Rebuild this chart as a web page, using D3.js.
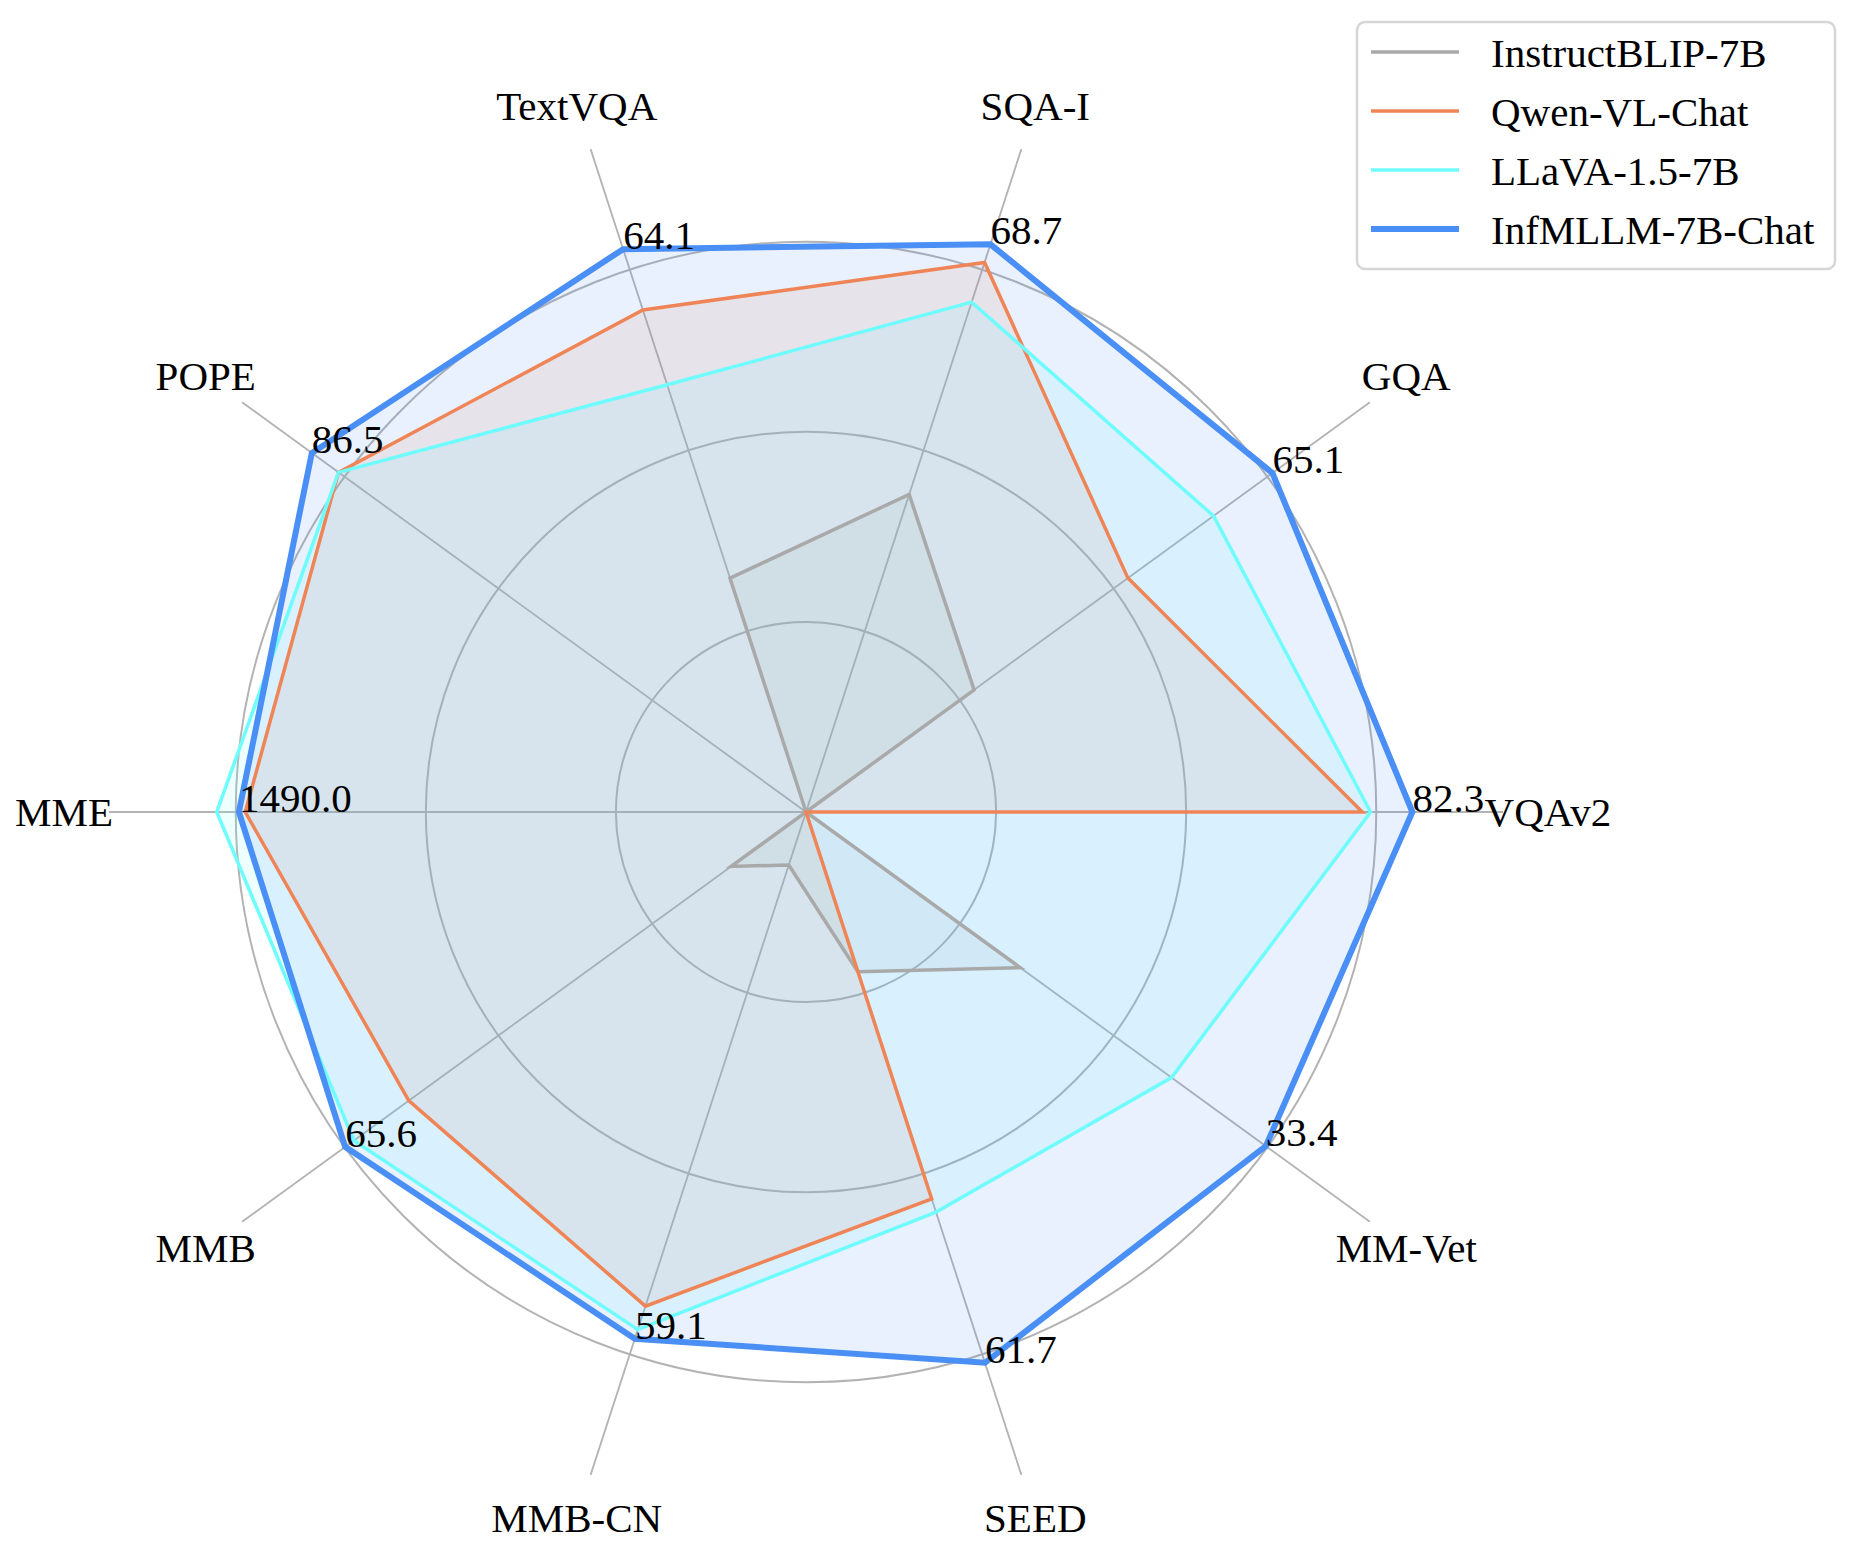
<!DOCTYPE html>
<html>
<head>
  <meta charset="utf-8">
  <title>Radar chart of MLLM benchmarks</title>
  <script src="https://d3js.org/d3.v7.min.js"></script>
  <style>
    body {
      margin: 0;
      background: #fff;
    }
    svg {
      font-family: "Liberation Serif", "Times New Roman", serif;
    }
    .grid {
      fill: none;
      stroke: #b3b3b3;
      stroke-width: 2px;
    }
    .spoke {
      stroke: #b3b3b3;
      stroke-width: 1.8px;
    }
  </style>
</head>
<body>
  <svg width="1856" height="1552"></svg>

  <script>
    // Benchmarks, counter-clockwise from the right
    const axes = ["VQAv2", "GQA", "SQA-I", "TextVQA", "POPE", "MME", "MMB", "MMB-CN", "SEED", "MM-Vet"];
    const models = ["InstructBLIP-7B", "Qwen-VL-Chat", "LLaVA-1.5-7B", "InfMLLM-7B-Chat"];
    const colors = ["#a9a9a9", "#ef8456", "#6ffcfc", "#4a8ff5"];
    const widths = [3.5, 3.5, 3.5, 6];

    // Normalised radius of each model on each axis
    const instructBlip = [0.0, 0.328, 0.527, 0.388, 0.0, 0.0, 0.146, 0.088, 0.265, 0.418];
    const qwenVlChat   = [0.878, 0.628, 0.912, 0.833, 0.912, 0.885, 0.775, 0.820, 0.642, 0.0];
    const llava15      = [0.891, 0.795, 0.846, 0.709, 0.912, 0.930, 0.882, 0.859, 0.664, 0.713];
    const infMllm      = [0.957, 0.910, 0.942, 0.934, 0.964, 0.895, 0.899, 0.874, 0.914, 0.897];
    const series = [instructBlip, qwenVlChat, llava15, infMllm];

    // Score labels printed at the InfMLLM points
    const infMllmLabels = ["82.3", "65.1", "68.7", "64.1", "86.5", "1490.0", "65.6", "59.1", "61.7", "33.4"];

    const gridTicks = [0.3, 0.6, 0.9];
    const fontSize = 41;

    const svg = d3.select("svg");
    const cx = 806, cy = 812;
    const g = svg.append("g").attr("transform", `translate(${cx},${cy})`);

    const r = d3.scaleLinear().domain([0, 1.1]).range([0, 697]);
    const step = 2 * Math.PI / axes.length;
    // angle in d3 radial terms (clockwise from 12 o'clock)
    const ang = i => Math.PI / 2 - i * step;
    const px = (i, v) => r(v) * Math.sin(ang(i));
    const py = (i, v) => -r(v) * Math.cos(ang(i));

    // grid rings
    g.selectAll("circle.grid")
      .data(gridTicks)
      .join("circle")
      .attr("class", "grid")
      .attr("r", d => r(d));

    // spokes
    g.selectAll("line.spoke")
      .data(axes)
      .join("line")
      .attr("class", "spoke")
      .attr("x1", 0).attr("y1", 0)
      .attr("x2", (d, i) => px(i, 1.1))
      .attr("y2", (d, i) => py(i, 1.1));

    // axis labels
    g.selectAll("text.axis-label")
      .data(axes)
      .join("text")
      .attr("class", "axis-label")
      .attr("x", (d, i) => px(i, 1.171))
      .attr("y", (d, i) => py(i, 1.171))
      .attr("text-anchor", "middle")
      .attr("dominant-baseline", "central")
      .attr("font-size", fontSize)
      .text(d => d);

    const radial = d3.lineRadial()
      .angle((d, i) => ang(i))
      .radius(d => r(d))
      .curve(d3.curveLinearClosed);

    // filled polygons
    g.selectAll("path.area")
      .data(series)
      .join("path")
      .attr("class", "area")
      .attr("d", radial)
      .attr("fill", (d, i) => colors[i])
      .attr("fill-opacity", 0.12)
      .attr("stroke", "none");

    // outlines
    g.selectAll("path.outline")
      .data(series)
      .join("path")
      .attr("class", "outline")
      .attr("d", radial)
      .attr("fill", "none")
      .attr("stroke", (d, i) => colors[i])
      .attr("stroke-width", (d, i) => widths[i])
      .attr("stroke-linejoin", "miter");

    // value labels at the InfMLLM vertices
    g.selectAll("text.value")
      .data(infMllm)
      .join("text")
      .attr("class", "value")
      .attr("x", (d, i) => px(i, d))
      .attr("y", (d, i) => py(i, d))
      .attr("font-size", fontSize)
      .text((d, i) => infMllmLabels[i]);

    // legend
    const legend = svg.append("g").attr("transform", "translate(1357,22)");
    legend.append("rect")
      .attr("width", 478).attr("height", 247)
      .attr("rx", 8)
      .attr("fill", "#fff").attr("fill-opacity", 0.8)
      .attr("stroke", "#d6d6d6").attr("stroke-width", 2.5);

    const items = legend.selectAll("g.item")
      .data(models)
      .join("g")
      .attr("class", "item")
      .attr("transform", (d, i) => `translate(0,${30 + i * 59})`);

    items.append("line")
      .attr("x1", 14).attr("x2", 102)
      .attr("stroke", (d, i) => colors[i])
      .attr("stroke-width", (d, i) => widths[i]);

    items.append("text")
      .attr("x", 134).attr("y", 15)
      .attr("font-size", fontSize)
      .text(d => d);
  </script>
</body>
</html>
